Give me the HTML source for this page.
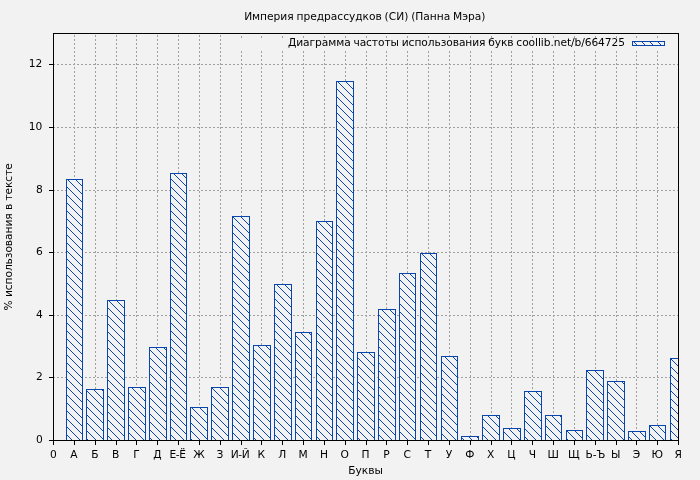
<!DOCTYPE html>
<html lang="ru"><head><meta charset="utf-8"><title>Империя предрассудков (СИ) (Панна Мэра)</title>
<style>html,body{margin:0;padding:0;background:#f2f2f2}body{width:700px;height:480px;overflow:hidden}svg{display:block}text{font-family:"DejaVu Sans","Liberation Sans",sans-serif;font-size:10.67px;fill:#000}</style></head><body>
<svg width="700" height="480" viewBox="0 0 700 480">
<defs><pattern id="h" width="8" height="8" patternUnits="userSpaceOnUse"><g fill="#0846ae" shape-rendering="crispEdges"><rect x="0" y="0" width="1" height="1"/><rect x="1" y="1" width="1" height="1"/><rect x="2" y="2" width="1" height="1"/><rect x="3" y="3" width="1" height="1"/><rect x="4" y="4" width="1" height="1"/><rect x="5" y="5" width="1" height="1"/><rect x="6" y="6" width="1" height="1"/><rect x="7" y="7" width="1" height="1"/></g></pattern>
<clipPath id="c"><rect x="53" y="33" width="626" height="408"/></clipPath></defs>
<rect width="700" height="480" fill="#f2f2f2"/>
<g stroke="#a0a0a0" stroke-width="1" stroke-dasharray="2 2" shape-rendering="crispEdges" fill="none"><line x1="74.5" y1="441" x2="74.5" y2="34"/><line x1="95.5" y1="441" x2="95.5" y2="34"/><line x1="116.5" y1="441" x2="116.5" y2="34"/><line x1="136.5" y1="441" x2="136.5" y2="34"/><line x1="157.5" y1="441" x2="157.5" y2="34"/><line x1="178.5" y1="441" x2="178.5" y2="34"/><line x1="199.5" y1="441" x2="199.5" y2="34"/><line x1="220.5" y1="441" x2="220.5" y2="34"/><line x1="241.5" y1="441" x2="241.5" y2="34"/><line x1="261.5" y1="441" x2="261.5" y2="34"/><line x1="282.5" y1="441" x2="282.5" y2="34"/><line x1="303.5" y1="441" x2="303.5" y2="34"/><line x1="324.5" y1="441" x2="324.5" y2="34"/><line x1="345.5" y1="441" x2="345.5" y2="34"/><line x1="366.5" y1="441" x2="366.5" y2="34"/><line x1="386.5" y1="441" x2="386.5" y2="34"/><line x1="407.5" y1="441" x2="407.5" y2="34"/><line x1="428.5" y1="441" x2="428.5" y2="34"/><line x1="449.5" y1="441" x2="449.5" y2="34"/><line x1="470.5" y1="441" x2="470.5" y2="34"/><line x1="491.5" y1="441" x2="491.5" y2="34"/><line x1="511.5" y1="441" x2="511.5" y2="34"/><line x1="532.5" y1="441" x2="532.5" y2="34"/><line x1="553.5" y1="441" x2="553.5" y2="34"/><line x1="574.5" y1="441" x2="574.5" y2="34"/><line x1="595.5" y1="441" x2="595.5" y2="34"/><line x1="616.5" y1="441" x2="616.5" y2="34"/><line x1="636.5" y1="441" x2="636.5" y2="34"/><line x1="657.5" y1="441" x2="657.5" y2="34"/>
<line x1="53" y1="377.5" x2="678" y2="377.5"/><line x1="53" y1="315.5" x2="678" y2="315.5"/><line x1="53" y1="252.5" x2="678" y2="252.5"/><line x1="53" y1="190.5" x2="678" y2="190.5"/><line x1="53" y1="127.5" x2="678" y2="127.5"/><line x1="53" y1="64.5" x2="678" y2="64.5"/></g>
<rect x="230" y="34" width="442" height="17" fill="#f2f2f2"/>
<g fill="#a0a0a0" shape-rendering="crispEdges"><rect x="241" y="36" width="1" height="2"/><rect x="261" y="36" width="1" height="2"/><rect x="282" y="36" width="1" height="2"/><rect x="303" y="36" width="1" height="2"/><rect x="324" y="36" width="1" height="2"/><rect x="345" y="36" width="1" height="2"/><rect x="366" y="36" width="1" height="2"/><rect x="386" y="36" width="1" height="2"/><rect x="407" y="36" width="1" height="2"/><rect x="428" y="36" width="1" height="2"/><rect x="449" y="36" width="1" height="2"/><rect x="470" y="36" width="1" height="2"/><rect x="491" y="36" width="1" height="2"/><rect x="511" y="36" width="1" height="2"/><rect x="532" y="36" width="1" height="2"/><rect x="553" y="36" width="1" height="2"/><rect x="574" y="36" width="1" height="2"/><rect x="595" y="36" width="1" height="2"/><rect x="616" y="36" width="1" height="2"/><rect x="636" y="36" width="1" height="2"/><rect x="657" y="36" width="1" height="2"/></g>
<g clip-path="url(#c)"><g fill="#f2f2f2" stroke="none"><rect x="66.5" y="179.5" width="16" height="261"/><rect x="86.5" y="389.5" width="17" height="51"/><rect x="107.5" y="300.5" width="17" height="140"/><rect x="128.5" y="387.5" width="17" height="53"/><rect x="149.5" y="347.5" width="17" height="93"/><rect x="170.5" y="173.5" width="16" height="267"/><rect x="190.5" y="407.5" width="17" height="33"/><rect x="211.5" y="387.5" width="17" height="53"/><rect x="232.5" y="216.5" width="17" height="224"/><rect x="253.5" y="345.5" width="17" height="95"/><rect x="274.5" y="284.5" width="17" height="156"/><rect x="295.5" y="332.5" width="16" height="108"/><rect x="316.5" y="221.5" width="16" height="219"/><rect x="336.5" y="81.5" width="17" height="359"/><rect x="357.5" y="352.5" width="17" height="88"/><rect x="378.5" y="309.5" width="17" height="131"/><rect x="399.5" y="273.5" width="16" height="167"/><rect x="420.5" y="253.5" width="16" height="187"/><rect x="441.5" y="356.5" width="16" height="84"/><rect x="461.5" y="436.5" width="17" height="4"/><rect x="482.5" y="415.5" width="17" height="25"/><rect x="503.5" y="428.5" width="17" height="12"/><rect x="524.5" y="391.5" width="17" height="49"/><rect x="545.5" y="415.5" width="16" height="25"/><rect x="566.5" y="430.5" width="16" height="10"/><rect x="586.5" y="370.5" width="17" height="70"/><rect x="607.5" y="381.5" width="17" height="59"/><rect x="628.5" y="431.5" width="17" height="9"/><rect x="649.5" y="425.5" width="16" height="15"/><rect x="670.5" y="358.5" width="16" height="82"/></g><g fill="url(#h)" stroke="#0846ae" stroke-width="1" shape-rendering="crispEdges"><rect x="66.5" y="179.5" width="16" height="261"/><rect x="86.5" y="389.5" width="17" height="51"/><rect x="107.5" y="300.5" width="17" height="140"/><rect x="128.5" y="387.5" width="17" height="53"/><rect x="149.5" y="347.5" width="17" height="93"/><rect x="170.5" y="173.5" width="16" height="267"/><rect x="190.5" y="407.5" width="17" height="33"/><rect x="211.5" y="387.5" width="17" height="53"/><rect x="232.5" y="216.5" width="17" height="224"/><rect x="253.5" y="345.5" width="17" height="95"/><rect x="274.5" y="284.5" width="17" height="156"/><rect x="295.5" y="332.5" width="16" height="108"/><rect x="316.5" y="221.5" width="16" height="219"/><rect x="336.5" y="81.5" width="17" height="359"/><rect x="357.5" y="352.5" width="17" height="88"/><rect x="378.5" y="309.5" width="17" height="131"/><rect x="399.5" y="273.5" width="16" height="167"/><rect x="420.5" y="253.5" width="16" height="187"/><rect x="441.5" y="356.5" width="16" height="84"/><rect x="461.5" y="436.5" width="17" height="4"/><rect x="482.5" y="415.5" width="17" height="25"/><rect x="503.5" y="428.5" width="17" height="12"/><rect x="524.5" y="391.5" width="17" height="49"/><rect x="545.5" y="415.5" width="16" height="25"/><rect x="566.5" y="430.5" width="16" height="10"/><rect x="586.5" y="370.5" width="17" height="70"/><rect x="607.5" y="381.5" width="17" height="59"/><rect x="628.5" y="431.5" width="17" height="9"/><rect x="649.5" y="425.5" width="16" height="15"/><rect x="670.5" y="358.5" width="16" height="82"/></g></g>
<rect x="632.5" y="41.5" width="32" height="4" fill="url(#h)" stroke="#0846ae" stroke-width="1" shape-rendering="crispEdges"/>
<g stroke="#000" stroke-width="1" shape-rendering="crispEdges" fill="none"><line x1="53.5" y1="440" x2="53.5" y2="445"/><line x1="74.5" y1="440" x2="74.5" y2="445"/><line x1="95.5" y1="440" x2="95.5" y2="445"/><line x1="116.5" y1="440" x2="116.5" y2="445"/><line x1="136.5" y1="440" x2="136.5" y2="445"/><line x1="157.5" y1="440" x2="157.5" y2="445"/><line x1="178.5" y1="440" x2="178.5" y2="445"/><line x1="199.5" y1="440" x2="199.5" y2="445"/><line x1="220.5" y1="440" x2="220.5" y2="445"/><line x1="241.5" y1="440" x2="241.5" y2="445"/><line x1="261.5" y1="440" x2="261.5" y2="445"/><line x1="282.5" y1="440" x2="282.5" y2="445"/><line x1="303.5" y1="440" x2="303.5" y2="445"/><line x1="324.5" y1="440" x2="324.5" y2="445"/><line x1="345.5" y1="440" x2="345.5" y2="445"/><line x1="366.5" y1="440" x2="366.5" y2="445"/><line x1="386.5" y1="440" x2="386.5" y2="445"/><line x1="407.5" y1="440" x2="407.5" y2="445"/><line x1="428.5" y1="440" x2="428.5" y2="445"/><line x1="449.5" y1="440" x2="449.5" y2="445"/><line x1="470.5" y1="440" x2="470.5" y2="445"/><line x1="491.5" y1="440" x2="491.5" y2="445"/><line x1="511.5" y1="440" x2="511.5" y2="445"/><line x1="532.5" y1="440" x2="532.5" y2="445"/><line x1="553.5" y1="440" x2="553.5" y2="445"/><line x1="574.5" y1="440" x2="574.5" y2="445"/><line x1="595.5" y1="440" x2="595.5" y2="445"/><line x1="616.5" y1="440" x2="616.5" y2="445"/><line x1="636.5" y1="440" x2="636.5" y2="445"/><line x1="657.5" y1="440" x2="657.5" y2="445"/><line x1="678.5" y1="440" x2="678.5" y2="445"/><line x1="49" y1="440.5" x2="53" y2="440.5"/><line x1="49" y1="377.5" x2="53" y2="377.5"/><line x1="49" y1="315.5" x2="53" y2="315.5"/><line x1="49" y1="252.5" x2="53" y2="252.5"/><line x1="49" y1="190.5" x2="53" y2="190.5"/><line x1="49" y1="127.5" x2="53" y2="127.5"/><line x1="49" y1="64.5" x2="53" y2="64.5"/>
<rect x="53.5" y="33.5" width="625" height="407"/></g>
<text x="364.8" y="20" text-anchor="middle" textLength="241.3" word-spacing="-0.5">Империя предрассудков (СИ) (Панна Мэра)</text>
<text x="625" y="45.7" text-anchor="end" textLength="337" word-spacing="-0.5">Диаграмма частоты использования букв coollib.net/b/664725</text>
<text x="365.5" y="474" text-anchor="middle">Буквы</text>
<text transform="translate(11.6,236.8) rotate(-90)" text-anchor="middle" textLength="147.3">% использования в тексте</text>
<g text-anchor="middle"><text x="53.5" y="458">0</text><text x="73.9" y="458">А</text><text x="94.8" y="458">Б</text><text x="115.6" y="458">В</text><text x="136.4" y="458">Г</text><text x="157.3" y="458">Д</text><text x="177.5" y="458" letter-spacing="-0.4">Е-Ё</text><text x="198.9" y="458">Ж</text><text x="219.8" y="458">З</text><text x="240.0" y="458" letter-spacing="-0.4">И-Й</text><text x="261.4" y="458">К</text><text x="282.3" y="458">Л</text><text x="303.1" y="458">М</text><text x="323.9" y="458">Н</text><text x="344.8" y="458">О</text><text x="365.6" y="458">П</text><text x="386.4" y="458">Р</text><text x="407.3" y="458">С</text><text x="428.1" y="458">Т</text><text x="448.9" y="458">У</text><text x="469.8" y="458">Ф</text><text x="490.6" y="458">Х</text><text x="511.4" y="458">Ц</text><text x="532.3" y="458">Ч</text><text x="553.1" y="458">Ш</text><text x="573.9" y="458">Щ</text><text x="595.4" y="458">Ь-Ъ</text><text x="615.6" y="458">Ы</text><text x="636.4" y="458">Э</text><text x="657.3" y="458">Ю</text><text x="678.1" y="458">Я</text></g>
<g text-anchor="end"><text x="42.8" y="443">0</text><text x="42.8" y="380">2</text><text x="42.8" y="318">4</text><text x="42.8" y="255">6</text><text x="42.8" y="193">8</text><text x="42.3" y="130">10</text><text x="42.3" y="67">12</text></g>
</svg></body></html>
